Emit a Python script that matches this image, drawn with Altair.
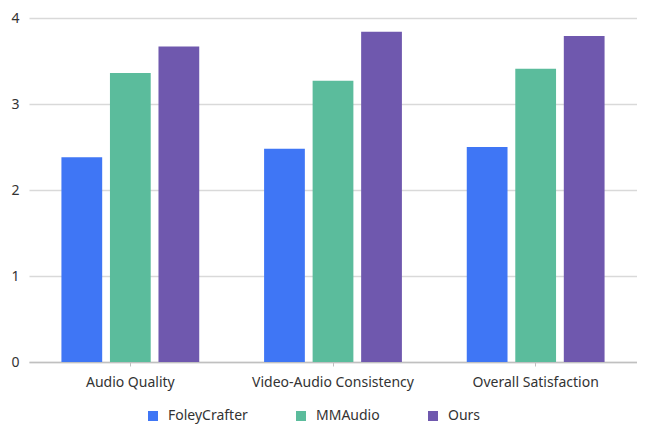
import altair as alt
import pandas as pd

categories = ["Audio Quality", "Video-Audio Consistency", "Overall Satisfaction"]
series = ["FoleyCrafter", "MMAudio", "Ours"]
foleycrafter = [2.38, 2.48, 2.50]
mmaudio = [3.36, 3.27, 3.41]
ours = [3.67, 3.84, 3.79]
colors = ["#3f76f5", "#5bbc9c", "#6f58ae"]

rows = []
for s, vals in zip(series, [foleycrafter, mmaudio, ours]):
    for c, v in zip(categories, vals):
        rows.append({"category": c, "series": s, "value": v})
df = pd.DataFrame(rows)

font = "Noto Sans"

chart = alt.Chart(df).mark_bar().encode(
    x=alt.X("category:N", sort=categories, title=None,
            scale=alt.Scale(paddingInner=0.32, paddingOuter=0.16),
            axis=alt.Axis(labelAngle=0, labelFont=font, labelFontSize=14,
                          labelColor="#333333", labelPadding=9,
                          domainColor="#c0c0c0", domainWidth=1.5,
                          tickColor="#c0c0c0", tickSize=4, tickWidth=1,
                          grid=False)),
    xOffset=alt.XOffset("series:N", sort=series,
                        scale=alt.Scale(paddingInner=0.16, paddingOuter=0)),
    y=alt.Y("value:Q", title=None,
            scale=alt.Scale(domain=[0, 4], nice=False),
            axis=alt.Axis(values=[0, 1, 2, 3, 4], labelFont=font, labelFontSize=14,
                          labelColor="#333333", labelPadding=10, ticks=False,
                          domain=False, gridColor="#d9d9d9", gridWidth=1.5)),
    color=alt.Color("series:N", sort=series,
                    scale=alt.Scale(domain=series, range=colors),
                    legend=alt.Legend(title=None, orient="none", direction="horizontal",
                                      legendX=117, legendY=391,
                                      symbolType="square", symbolSize=100,
                                      symbolStrokeWidth=0, symbolOpacity=1,
                                      labelFont=font, labelFontSize=14,
                                      labelColor="#333333", labelOffset=8,
                                      columnPadding=46, padding=0)),
).properties(
    width=608, height=344,
    autosize=alt.AutoSizeParams(type="none"),
    padding={"left": 21, "top": 10, "right": 0, "bottom": 62},
).configure_view(stroke=None)

chart.save("out.html", embed_options={"renderer": "svg", "actions": False})
